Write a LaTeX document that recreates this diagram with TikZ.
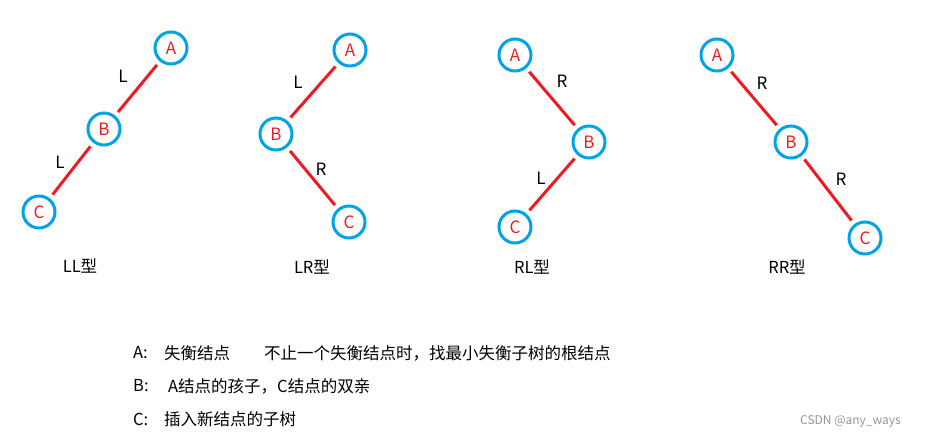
\documentclass[tikz,border=0pt]{standalone}
\usepackage{fontspec}
\setmainfont{Noto Sans CJK SC}
\definecolor{cblue}{RGB}{0,162,232}
\definecolor{cred}{RGB}{237,28,36}
\definecolor{wgray}{RGB}{150,150,150}
\begin{document}
\begin{tikzpicture}[x=1pt,y=-1pt,
  tn/.style={circle,draw=cblue,line width=3pt,minimum size=32pt,inner sep=0pt,text=cred,font=\fontsize{17}{19}\selectfont},
  edge/.style={draw=cred,line width=3pt,shorten <=4.5pt,shorten >=4.5pt},
  lbl/.style={font=\fontsize{17}{19}\selectfont,inner sep=0pt},
  captxt/.style={font=\fontsize{16.5}{19}\selectfont,inner sep=0pt},
  txt/.style={font=\fontsize{16.5}{19}\selectfont,inner sep=0pt,anchor=west}]
\useasboundingbox[fill=white] (0,0) rectangle (926,438);
% LL
\node[tn] (a1) at (171,48) {A};
\node[tn] (b1) at (104,129) {B};
\node[tn] (c1) at (39,212) {C};
\draw[edge] (a1) -- (b1);
\draw[edge] (b1) -- (c1);
\node[lbl] (l1a) at (123,76) {L};
\node[lbl] (l1b) at (60,162) {L};
\node[captxt] (cap1) at (80,266) {LL型};
% LR
\node[tn] (a2) at (350,50) {A};
\node[tn] (b2) at (276,134) {B};
\node[tn] (c2) at (349,222) {C};
\draw[edge] (a2) -- (b2);
\draw[edge] (b2) -- (c2);
\node[lbl] (l2a) at (298,82) {L};
\node[lbl] (l2b) at (321,169) {R};
\node[captxt] (cap2) at (312,267) {LR型};
% RL
\node[tn] (a3) at (515,55) {A};
\node[tn] (b3) at (589,142) {B};
\node[tn] (c3) at (515,227) {C};
\draw[edge] (a3) -- (b3);
\draw[edge] (b3) -- (c3);
\node[lbl] (l3a) at (562,81) {R};
\node[lbl] (l3b) at (541,178) {L};
\node[captxt] (cap3) at (532,267) {RL型};
% RR
\node[tn] (a4) at (717,55) {A};
\node[tn] (b4) at (791,142) {B};
\node[tn] (c4) at (865,238) {C};
\draw[edge] (a4) -- (b4);
\draw[edge] (b4) -- (c4);
\node[lbl] (l4a) at (762,83) {R};
\node[lbl] (l4b) at (841,179) {R};
\node[captxt] (cap4) at (787,267) {RR型};
% legend
\node[txt] (ka) at (133,353) {A:};
\node[txt] (va) at (164,353) {失衡结点};
\node[txt] (na) at (264,353) {不止一个失衡结点时，找最小失衡子树的根结点};
\node[txt] (kb) at (133,386) {B:};
\node[txt] (vb) at (168,386) {A结点的孩子，C结点的双亲};
\node[txt] (kc) at (133,419) {C:};
\node[txt] (vc) at (164,419) {插入新结点的子树};
\node[inner sep=0pt,anchor=west,text=wgray,font=\fontsize{12}{14}\selectfont] (wm) at (800,421) {CSDN @any\_ways};
\end{tikzpicture}
\end{document}
